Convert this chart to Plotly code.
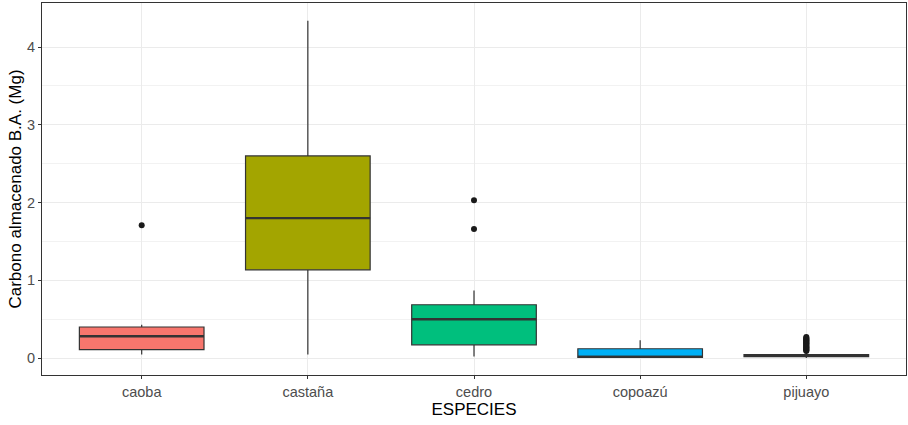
import plotly.graph_objects as go

species = ["caoba", "castaña", "cedro", "copoazú", "pijuayo"]
colors = ["#F8766D", "#A3A500", "#00BF7D", "#00B0F6", "#E76BF3"]
q1 = [0.11, 1.135, 0.17, 0.01, 0.02]
median = [0.28, 1.80, 0.50, 0.015, 0.035]
q3 = [0.40, 2.60, 0.686, 0.12, 0.045]
lower = [0.045, 0.045, 0.02, 0.0, 0.0]
upper = [0.43, 4.34, 0.87, 0.23, 0.07]
outliers = {
    "caoba": [1.71],
    "castaña": [],
    "cedro": [2.03, 1.66],
    "copoazú": [],
    "pijuayo": [0.09, 0.10, 0.11, 0.12, 0.13, 0.14, 0.15, 0.16, 0.17, 0.18,
                0.19, 0.20, 0.21, 0.22, 0.23, 0.24, 0.25, 0.26, 0.27],
}

fig = go.Figure()
hw = 0.375
for i, sp in enumerate(species):
    fig.add_trace(go.Box(
        x=[i], q1=[q1[i]], median=[median[i]], q3=[q3[i]],
        lowerfence=[lower[i]], upperfence=[upper[i]],
        fillcolor=colors[i], line=dict(color="#333333", width=1.2),
        whiskerwidth=0, width=0.75, boxpoints=False, showlegend=False,
    ))
    fig.add_trace(go.Scatter(
        x=[i - hw, i + hw], y=[median[i], median[i]], mode="lines",
        line=dict(color="#333333", width=2.4), showlegend=False, hoverinfo="skip",
    ))
    pts = outliers[sp]
    if pts:
        fig.add_trace(go.Scatter(
            x=[i] * len(pts), y=pts, mode="markers",
            marker=dict(color="#1A1A1A", size=6), showlegend=False,
        ))

fig.update_layout(
    width=908, height=425,
    margin=dict(l=42, r=2, t=3, b=50, autoexpand=False),
    plot_bgcolor="white", paper_bgcolor="white",
    font=dict(family="Liberation Sans, Arial, sans-serif", color="#4D4D4D", size=14),
    showlegend=False,
)
fig.update_xaxes(
    automargin=False,
    range=[-0.6, 4.6], tickmode="array", tickvals=list(range(len(species))),
    ticktext=species, showgrid=True, gridcolor="#EBEBEB", gridwidth=1,
    zeroline=False, showline=True, mirror=True, linecolor="#333333", linewidth=1.2,
    ticks="outside", ticklen=3, tickcolor="#333333",
    tickfont=dict(size=14.5, color="#4D4D4D"),
    title=dict(text="ESPECIES", font=dict(size=17, color="#000000"), standoff=4),
)
fig.update_yaxes(
    automargin=False,
    range=[-0.2175, 4.5675], tickvals=[0, 1, 2, 3, 4],
    showgrid=True, gridcolor="#EBEBEB", gridwidth=1,
    minor=dict(tickvals=[0.5, 1.5, 2.5, 3.5], showgrid=True, gridcolor="#F2F2F2", gridwidth=0.8),
    zeroline=False, showline=True, mirror=True, linecolor="#333333", linewidth=1.2,
    ticks="outside", ticklen=3, tickcolor="#333333",
    tickfont=dict(size=14.5, color="#4D4D4D"),
    title=dict(text="Carbono almacenado B.A. (Mg)", font=dict(size=17, color="#000000"), standoff=0),
)

fig.write_html("out.html", config={"displayModeBar": False},
               post_script="document.body.style.margin='0';")
